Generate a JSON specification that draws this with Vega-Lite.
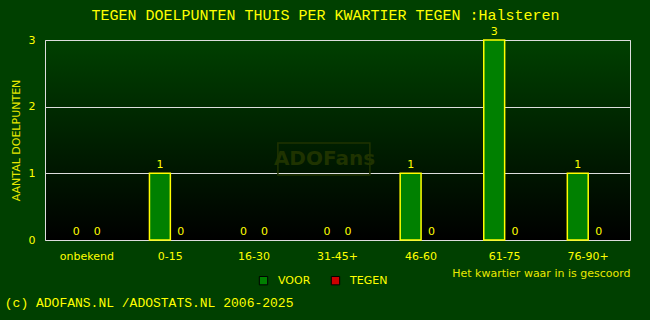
{
  "$schema": "https://vega.github.io/schema/vega-lite/v6.json",
  "width": 585,
  "height": 200,
  "autosize": {"type": "none"},
  "padding": {"left": 45, "top": 40, "right": 20, "bottom": 80},
  "background": "#004000",
  "title": {
    "text": "TEGEN DOELPUNTEN THUIS PER KWARTIER TEGEN :Halsteren",
    "font": "Liberation Mono",
    "fontSize": 15,
    "fontWeight": "normal",
    "color": "#ffff00",
    "anchor": "middle",
    "dx": -12,
    "dy": 5,
    "offset": 8
  },
  "config": {
    "view": {
      "stroke": "#dddddd",
      "strokeWidth": 1,
      "fill": {"gradient": "linear", "x1": 0, "y1": 0, "x2": 0, "y2": 1,
        "stops": [{"offset": 0, "color": "#004000"}, {"offset": 1, "color": "#000000"}]}
    },
    "axis": {
      "labelFont": "DejaVu Sans",
      "labelFontSize": 11,
      "labelColor": "#ffff00",
      "titleFont": "DejaVu Sans",
      "titleFontSize": 11,
      "titleFontWeight": "normal",
      "titleColor": "#e8e800",
      "ticks": false,
      "domain": false
    },
    "legend": {
      "labelFont": "DejaVu Sans",
      "labelFontSize": 11,
      "labelColor": "#ffff00"
    }
  },
  "datasets": {
    "goals": [
      {"kwartier": "onbekend", "type": "VOOR", "aantal": 0},
      {"kwartier": "onbekend", "type": "TEGEN", "aantal": 0},
      {"kwartier": "0-15", "type": "VOOR", "aantal": 1},
      {"kwartier": "0-15", "type": "TEGEN", "aantal": 0},
      {"kwartier": "16-30", "type": "VOOR", "aantal": 0},
      {"kwartier": "16-30", "type": "TEGEN", "aantal": 0},
      {"kwartier": "31-45+", "type": "VOOR", "aantal": 0},
      {"kwartier": "31-45+", "type": "TEGEN", "aantal": 0},
      {"kwartier": "46-60", "type": "VOOR", "aantal": 1},
      {"kwartier": "46-60", "type": "TEGEN", "aantal": 0},
      {"kwartier": "61-75", "type": "VOOR", "aantal": 3},
      {"kwartier": "61-75", "type": "TEGEN", "aantal": 0},
      {"kwartier": "76-90+", "type": "VOOR", "aantal": 1},
      {"kwartier": "76-90+", "type": "TEGEN", "aantal": 0}
    ]
  },
  "data": {"name": "goals"},
  "encoding": {
    "x": {
      "field": "kwartier", "type": "nominal", "sort": null,
      "scale": {"domain": ["onbekend", "0-15", "16-30", "31-45+", "46-60", "61-75", "76-90+"], "paddingInner": 0.5, "paddingOuter": 0.25},
      "axis": {"labelAngle": 0, "labelPadding": 10, "title": "Het kwartier waar in is gescoord", "titleAnchor": "end", "titlePadding": 6, "grid": false}
    },
    "y": {
      "type": "quantitative",
      "scale": {"domain": [0, 3], "nice": false},
      "axis": {"values": [0, 1, 2, 3], "title": "AANTAL DOELPUNTEN", "grid": true, "gridColor": "#dddddd", "gridWidth": 1, "labelPadding": 10, "titlePadding": 7}
    }
  },
  "layer": [
    {
      "transform": [{"filter": "datum.aantal > 0"}],
      "mark": {"type": "bar", "stroke": "#ffff00", "strokeWidth": 1.5},
      "encoding": {
        "y": {"field": "aantal", "type": "quantitative"},
        "xOffset": {"field": "type", "type": "nominal", "scale": {"domain": ["VOOR", "TEGEN"], "paddingInner": 0, "paddingOuter": 0}},
        "color": {
          "field": "type", "type": "nominal",
          "scale": {"domain": ["VOOR", "TEGEN"], "range": ["#008000", "#cc0000"]},
          "legend": {"title": null, "orient": "none", "direction": "horizontal", "legendX": 213, "legendY": 235, "symbolType": "square", "symbolSize": 70, "symbolStrokeColor": "#000000", "symbolStrokeWidth": 1, "symbolOpacity": 1, "labelOffset": 9, "columnPadding": 18}
        }
      }
    },
    {
      "mark": {"type": "text", "color": "#ffff00", "font": "DejaVu Sans", "fontSize": 11, "baseline": "bottom", "dy": -3},
      "encoding": {
        "y": {"field": "aantal", "type": "quantitative"},
        "xOffset": {"field": "type", "type": "nominal", "scale": {"domain": ["VOOR", "TEGEN"]}},
        "text": {"field": "aantal", "type": "quantitative"}
      }
    },
    {
      "data": {"values": [{"merk": "ADOFans"}]},
      "mark": {"type": "point", "shape": "M-1.296,-0.348L0.704,-0.348L0.704,0.348L-1.296,0.348Z", "size": 8464, "filled": false, "stroke": "#1f3300", "strokeWidth": 1.5, "opacity": 1},
      "encoding": {
        "x": {"datum": "31-45+"},
        "y": {"datum": 1.215}
      }
    },
    {
      "data": {"values": [{"merk": "ADOFans"}]},
      "mark": {"type": "text", "font": "DejaVu Sans", "fontWeight": "bold", "fontSize": 20, "color": "#1f3300", "dx": -13, "baseline": "middle"},
      "encoding": {
        "x": {"datum": "31-45+"},
        "y": {"datum": 1.215},
        "text": {"field": "merk"}
      }
    },
    {
      "data": {"values": [{"voet": "(c) ADOFANS.NL /ADOSTATS.NL 2006-2025"}]},
      "mark": {"type": "text", "font": "Liberation Mono", "fontSize": 13, "color": "#ffff00", "align": "left", "baseline": "middle", "dx": -82},
      "encoding": {
        "x": {"datum": "onbekend"},
        "y": {"datum": -0.945},
        "text": {"field": "voet"}
      }
    }
  ]
}
